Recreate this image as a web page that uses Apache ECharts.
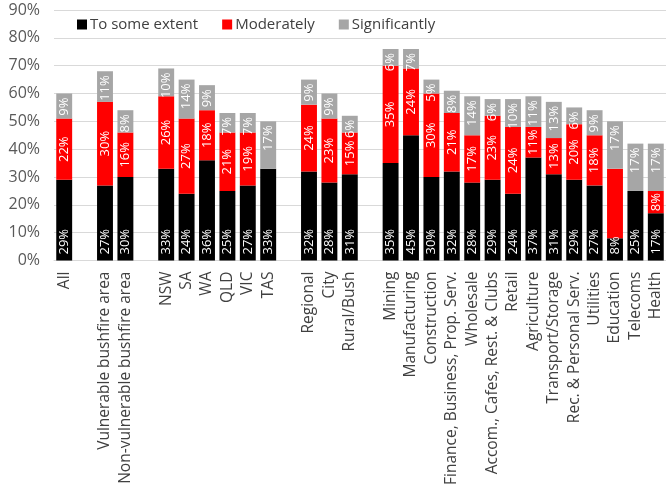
<!DOCTYPE html>
<html>
<head>
<meta charset="utf-8">
<script src="https://cdn.jsdelivr.net/npm/echarts@6/dist/echarts.min.js"></script>
<style>
  html, body { margin: 0; padding: 0; background: #fff; }
  #chart { width: 666px; height: 488px; }
</style>
</head>
<body>
<div id="chart"></div>
<script>
// Category groups; blank entries leave a visual gap between groups
const categories = [
  'All', ' ',
  'Vulnerable bushfire area', 'Non-vulnerable bushfire area', '  ',
  'NSW', 'SA', 'WA', 'QLD', 'VIC', 'TAS', '   ',
  'Regional', 'City', 'Rural/Bush', '    ',
  'Mining', 'Manufacturing', 'Construction', 'Finance, Business, Prop. Serv.',
  'Wholesale', 'Accom., Cafes, Rest. & Clubs', 'Retail', 'Agriculture',
  'Transport/Storage', 'Rec. & Personal Serv.', 'Utilities', 'Education',
  'Telecoms', 'Health'
];

// Share of businesses affected (%)
const toSomeExtent = [29, '-', 27, 30, '-', 33, 24, 36, 25, 27, 33, '-', 32, 28, 31, '-',
  35, 45, 30, 32, 28, 29, 24, 37, 31, 29, 27, 8, 25, 17];
const moderately = [22, '-', 30, 16, '-', 26, 27, 18, 21, 19, 0, '-', 24, 23, 15, '-',
  35, 24, 30, 21, 17, 23, 24, 11, 13, 20, 18, 25, 0, 8];
const significantly = [9, '-', 11, 8, '-', 10, 14, 9, 7, 7, 17, '-', 9, 9, 6, '-',
  6, 7, 5, 8, 14, 6, 10, 11, 13, 6, 9, 17, 17, 17];

// Moderately values printed on the bars (Education's segment carries no label)
const moderatelyUnlabelled = ['Education'];

const yTicks = [0, 10, 20, 30, 40, 50, 60, 70, 80, 90];

const FONT = 'Open Sans';

const pctLabel = (p) => (p.value === 0 || p.value === '-') ? '' : p.value + '%';

const baseLabel = {
  show: true,
  rotate: 90,
  color: '#ffffff',
  fontFamily: FONT,
  fontSize: 13,
  formatter: pctLabel
};

const chart = echarts.init(document.getElementById('chart'), null, { renderer: 'canvas' });

chart.setOption({
  animation: false,
  backgroundColor: '#ffffff',
  textStyle: { fontFamily: FONT },
  grid: { left: 54, right: -3, top: 10, bottom: 218, containLabel: false },
  legend: {
    top: 17,
    left: 77,
    padding: 0,
    itemWidth: 10,
    itemHeight: 10,
    itemGap: 24,
    icon: 'rect',
    textStyle: { fontFamily: FONT, fontSize: 15, color: '#404040', padding: [0, 0, 0, -2] },
    data: ['To some extent', 'Moderately', 'Significantly']
  },
  xAxis: {
    type: 'category',
    data: categories,
    axisTick: { show: false },
    axisLine: { lineStyle: { color: '#d9d9d9', width: 1 } },
    axisLabel: {
      rotate: 90,
      interval: 0,
      margin: 11,
      color: '#404040',
      fontFamily: FONT,
      fontSize: 15.5
    }
  },
  yAxis: {
    type: 'value',
    min: yTicks[0],
    max: yTicks[yTicks.length - 1],
    interval: yTicks[1] - yTicks[0],
    axisLine: { show: false },
    axisTick: { show: false },
    splitLine: { lineStyle: { color: '#d9d9d9', width: 1 } },
    axisLabel: {
      formatter: '{value}%',
      color: '#595959',
      fontFamily: FONT,
      fontSize: 16,
      margin: 14
    }
  },
  series: [
    {
      name: 'To some extent',
      type: 'bar',
      stack: 'total',
      barWidth: '78%',
      itemStyle: { color: '#000000' },
      label: Object.assign({}, baseLabel, {
        position: 'insideBottom', align: 'left', verticalAlign: 'middle', distance: 6
      }),
      data: toSomeExtent
    },
    {
      name: 'Moderately',
      type: 'bar',
      stack: 'total',
      itemStyle: { color: '#ff0000' },
      label: Object.assign({}, baseLabel, {
        position: 'inside', align: 'center', verticalAlign: 'middle'
      }),
      data: moderately.map((v, i) =>
        moderatelyUnlabelled.includes(categories[i]) ? { value: v, label: { show: false } } : v)
    },
    {
      name: 'Significantly',
      type: 'bar',
      stack: 'total',
      itemStyle: { color: '#a6a6a6' },
      label: Object.assign({}, baseLabel, {
        position: 'insideTop', align: 'right', verticalAlign: 'middle', distance: 4
      }),
      data: significantly
    }
  ]
});
</script>
</body>
</html>
